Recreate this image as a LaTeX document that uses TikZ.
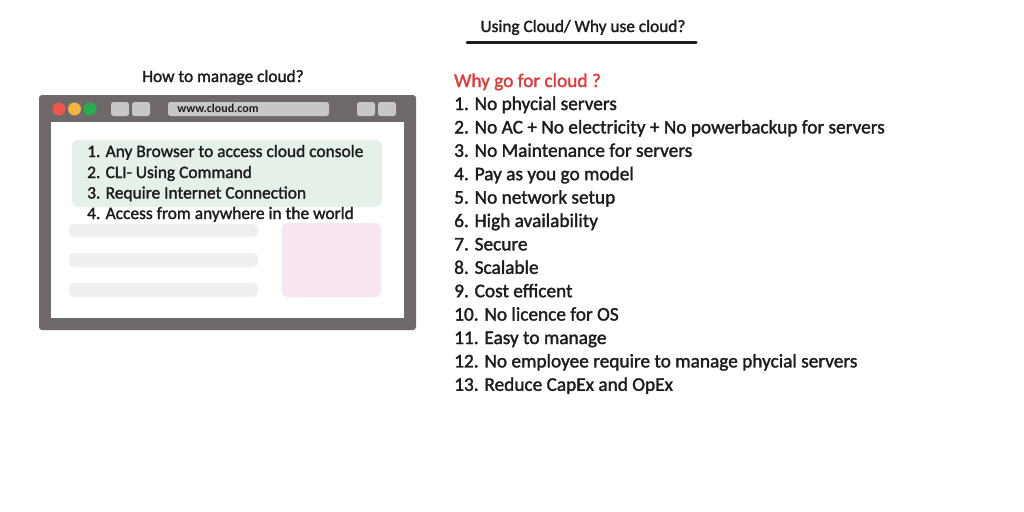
\documentclass[tikz,border=0pt]{standalone}
\usepackage{fontspec}
\setmainfont{Carlito}
\newfontfamily\medfont{Carlito}[FakeBold=1.6]
\definecolor{frame}{HTML}{6E6869}
\definecolor{btn}{HTML}{C9C6C6}
\definecolor{dotred}{HTML}{F0564C}
\definecolor{dotorange}{HTML}{F5B53C}
\definecolor{dotgreen}{HTML}{22AE4C}
\definecolor{greenbox}{HTML}{E4F0E8}
\definecolor{bar}{HTML}{EFEFEF}
\definecolor{pinkbox}{HTML}{FAE5F2}
\definecolor{redtxt}{HTML}{E23A3A}
\definecolor{txt}{HTML}{1C1C1C}
\tikzset{
  listtxt/.style={anchor=base west,inner sep=0pt,text=txt,font=\medfont\fontsize{19.3}{23}\selectfont},
  navtxt/.style={anchor=base west,inner sep=0pt,text=txt,font=\medfont\fontsize{17.4}{21}\selectfont},
  headtxt/.style={anchor=base,inner sep=0pt,text=txt,font=\medfont\fontsize{17.3}{21}\selectfont},
  btnbox/.style={fill=btn,rounded corners=2.5pt},
  barbox/.style={fill=bar,rounded corners=5pt},
}
\begin{document}
\begin{tikzpicture}[x=1pt,y=-1pt]
\useasboundingbox[fill=white] (0,0) rectangle (1024,511);
% title
\node[headtxt] (title) at (583,32) {Using Cloud/ Why use cloud?};
\coordinate (ulA) at (467,43);
\coordinate (ulB) at (696,43);
\draw[line width=3pt,line cap=round,txt] (ulA) -- (ulB);
% left heading
\node[headtxt] (howto) at (223,82) {How to manage cloud?};
% browser frame
\fill[frame,rounded corners=3pt] (39,95) rectangle (416,330);
\fill[white] (51,122) rectangle (404,318);
\fill[dotred] (59,109) circle (6.5);
\fill[dotorange] (74.5,109) circle (6.5);
\fill[dotgreen] (90,109) circle (6.5);
\fill[btnbox] (111,102) rectangle (129,116);
\fill[btnbox] (132,102) rectangle (150,116);
\fill[btnbox] (168,102) rectangle (329,116);
\fill[btnbox] (357,102) rectangle (375,116);
\fill[btnbox] (378,102) rectangle (396,116);
\node[anchor=center,inner sep=0pt,text=txt,font=\bfseries\fontsize{12}{13}\selectfont] (url) at (218,108.5) {www.cloud.com};
% content
\fill[greenbox,rounded corners=6pt] (72,140) rectangle (382,207);
\fill[barbox] (69,224) rectangle (258,237);
\fill[barbox] (69,253) rectangle (258,267);
\fill[barbox] (69,283) rectangle (258,297);
\fill[pinkbox,rounded corners=5pt] (282,223) rectangle (381,297);
\node[navtxt] (m1) at (87,157) {1. Any Browser to access cloud console};
\node[navtxt] (m2) at (87,178) {2. CLI- Using Command};
\node[navtxt] (m3) at (87,198.5) {3. Require Internet Connection};
\node[navtxt] (m4) at (87,219) {4. Access from anywhere in the world};
% right list
\node[listtxt,text=redtxt] (why) at (454,87) {Why go for cloud ?};
\node[listtxt] (r1) at (454,110) {1. No phycial servers};
\node[listtxt] (r2) at (454,133.4) {2. No AC + No electricity + No powerbackup for servers};
\node[listtxt] (r3) at (454,156.8) {3. No Maintenance for servers};
\node[listtxt] (r4) at (454,180.2) {4. Pay as you go model};
\node[listtxt] (r5) at (454,203.6) {5. No network setup};
\node[listtxt] (r6) at (454,227) {6. High availability};
\node[listtxt] (r7) at (454,250.4) {7. Secure};
\node[listtxt] (r8) at (454,273.8) {8. Scalable};
\node[listtxt] (r9) at (454,297.2) {9. Cost efficent};
\node[listtxt] (r10) at (454,320.6) {10. No licence for OS};
\node[listtxt] (r11) at (454,344) {11. Easy to manage};
\node[listtxt] (r12) at (454,367.4) {12. No employee require to manage phycial servers};
\node[listtxt] (r13) at (454,390.8) {13. Reduce CapEx and OpEx};
\end{tikzpicture}
\end{document}
